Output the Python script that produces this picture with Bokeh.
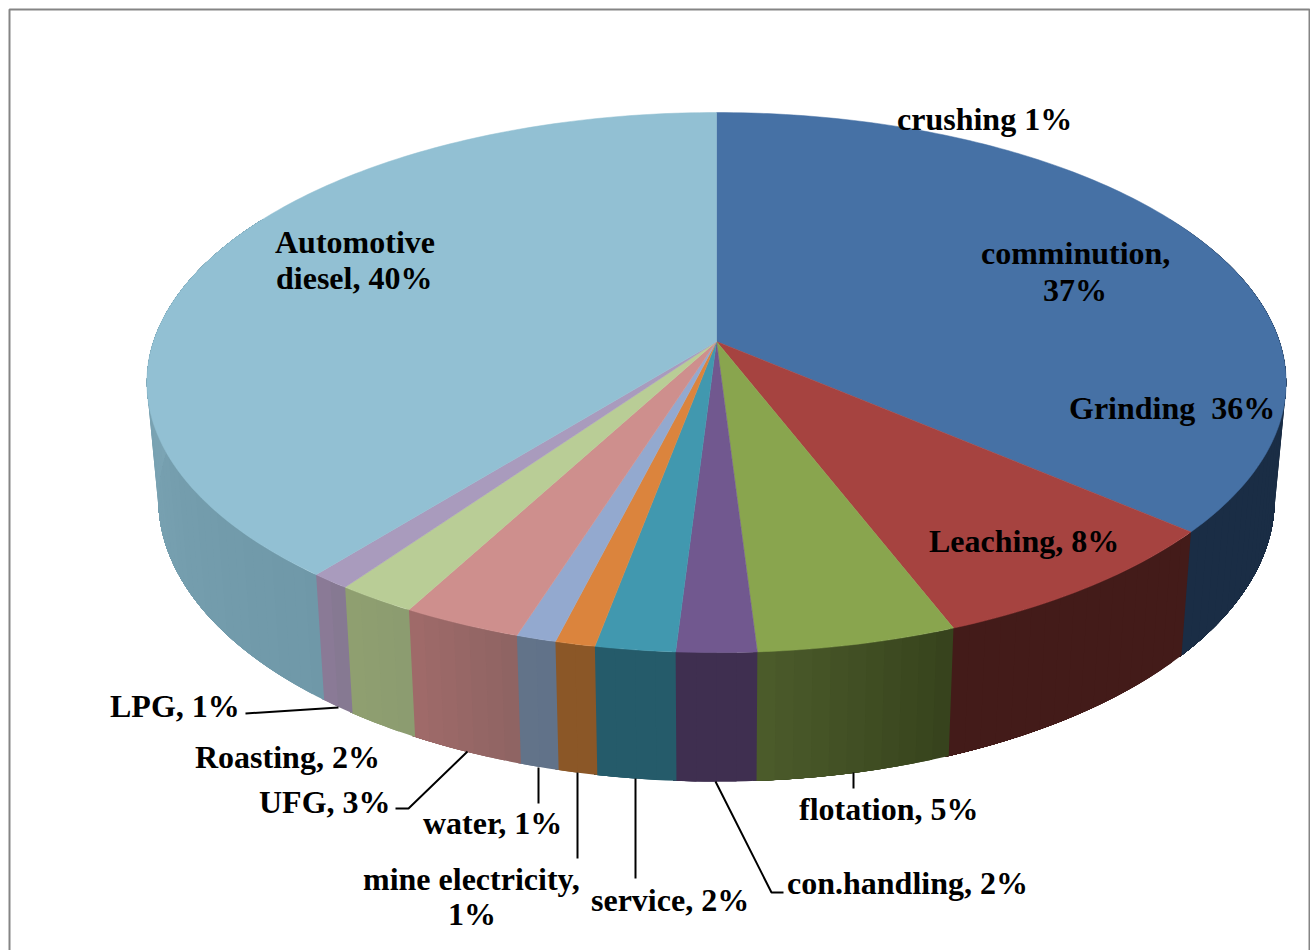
import numpy as np
from bokeh.core.properties import value
from bokeh.embed import file_html
from bokeh.models import ColumnDataSource, Range1d
from bokeh.plotting import figure
from bokeh.resources import INLINE

# Energy use shares, clockwise from twelve o'clock
categories = ["comminution", "Leaching", "flotation", "con.handling", "service",
              "mine electricity", "water", "UFG", "Roasting", "LPG", "Automotive diesel"]
shares = [37, 8, 5, 2, 2, 1, 1, 3, 2, 1, 40]
top_colors = ["#4671A5", "#A64340", "#89A54E", "#71588F", "#4198AF", "#DB843D",
              "#93A9CF", "#CE8F8D", "#B9CD96", "#A99BBD", "#92C0D3"]
wall_start = ["#1A2D45", "#431B19", "#36421C", "#3F2F50", "#255B6A", "#8B5727",
              "#617289", "#8E6362", "#8C9C70", "#85788F", "#6F98A8"]
wall_end = ["#1A2D45", "#431B19", "#4C5C2B", "#3F2F50", "#255B6A", "#8B5727",
            "#627389", "#A06B6A", "#8F9F70", "#8B7B99", "#82ABBB"]

# Perspective of the disc: hub position, radii and foreshortening
HUB_X, HUB_Y = 716.0, 341.0
RADIUS_X, RADIUS_Y, TILT = 563.0, 263.8, 0.152
# The lower rim of the disc relative to the upper rim
RIM_SCALE_X, RIM_SCALE_Y, RIM_DROP = 0.98, 1.046, 114.7


def top_rim(theta):
    u, v = np.sin(theta), -np.cos(theta)
    w = 1 - TILT * v
    return HUB_X + RADIUS_X * u / w, HUB_Y + RADIUS_Y * v / w


def bottom_rim(theta):
    x, y = top_rim(theta)
    return HUB_X + RIM_SCALE_X * (x - HUB_X), HUB_Y + RIM_DROP + RIM_SCALE_Y * (y - HUB_Y)


def mix(a, b, t):
    ca = [int(a[i:i + 2], 16) for i in (1, 3, 5)]
    cb = [int(b[i:i + 2], 16) for i in (1, 3, 5)]
    return "#%02x%02x%02x" % tuple(round(p + (q - p) * t) for p, q in zip(ca, cb))


edges = np.cumsum([0] + shares) / sum(shares) * 2 * np.pi

p = figure(width=1310, height=950, output_backend="svg", toolbar_location=None,
           x_range=Range1d(0, 1310), y_range=Range1d(950, 0),
           x_axis_type=None, y_axis_type=None, min_border=0,
           outline_line_color=None, background_fill_color="white")

# Frame round the chart area
p.line([9, 9, 1309, 1309], [950, 9, 9, 950], line_color="#858585", line_width=2)

# Outer wall: only the arc facing the viewer. Each strip runs on to the end of
# its slice and the next strip paints over it, so no gaps show between them and
# the sweep of strips gives the straight silhouette at the sides of the disc.
wall_xs, wall_ys, wall_cs = [], [], []
visible_from, visible_to = np.radians(60), np.radians(300)
overlap = np.radians(0.3)
for i in range(len(shares)):
    a0, a1 = max(edges[i], visible_from), min(edges[i + 1], visible_to)
    steps = max(2, int(np.degrees(a1 - a0) / 1.5))
    cuts = np.linspace(a0, a1, steps + 1)
    stop = a1 + overlap if i < len(shares) - 1 else a1
    for j in range(steps):
        seg = np.linspace(cuts[j], stop, max(3, int(np.degrees(stop - cuts[j])) + 2))
        tx, ty = top_rim(seg)
        bx, by = bottom_rim(seg)
        wall_xs.append(np.r_[tx, bx[::-1]])
        wall_ys.append(np.r_[ty, by[::-1]])
        wall_cs.append(mix(wall_start[i], wall_end[i], (j + 0.5) / steps))
walls = ColumnDataSource(dict(xs=wall_xs, ys=wall_ys, color=wall_cs))
p.patches("xs", "ys", source=walls, fill_color="color", line_color=None)

# Top face of each slice
face_xs, face_ys = [], []
for i in range(len(shares)):
    arc = np.linspace(edges[i], edges[i + 1], max(4, int(np.degrees(edges[i + 1] - edges[i]))))
    x, y = top_rim(arc)
    face_xs.append(np.r_[HUB_X, x])
    face_ys.append(np.r_[HUB_Y, y])
faces = ColumnDataSource(dict(xs=face_xs, ys=face_ys, color=top_colors, name=categories))
p.patches("xs", "ys", source=faces, fill_color="color", line_color="color", line_width=0.5)

# Leader lines from the outside labels to their slices
leaders = [
    ([245, 338], [713, 707]),
    ([395, 408, 467], [808, 808, 751]),
    ([538, 538], [767, 803]),
    ([577, 577], [772, 858]),
    ([635, 635], [778, 878]),
    ([715, 771, 783], [781, 892, 892]),
    ([853, 853], [772, 788]),
]
for lx, ly in leaders:
    p.line(lx, ly, line_color="black", line_width=2)

# Data labels
labels = [
    ("crushing 1%", 896.5, 118),
    ("comminution,", 980.5, 252),
    ("37%", 1042.5, 289),
    ("Grinding\u00a0\u00a036%", 1068.5, 407),
    ("Leaching, 8%", 928.5, 540),
    ("Automotive", 274.5, 241),
    ("diesel, 40%", 275.5, 277),
    ("LPG, 1%", 109.5, 705),
    ("Roasting, 2%", 194.5, 756),
    ("UFG, 3%", 258.5, 801),
    ("water, 1%", 422.5, 822),
    ("mine electricity,", 362.5, 878),
    ("1%", 447.5, 913),
    ("service, 2%", 590.5, 899),
    ("con.handling, 2%", 786.5, 882),
    ("flotation, 5%", 798.5, 808),
]
p.text([l[1] for l in labels], [l[2] for l in labels], text=[l[0] for l in labels],
       text_font=value("Liberation Serif"), text_font_style="bold", text_font_size="32px",
       text_color="black", text_align="left", text_baseline="alphabetic")

open("out.html", "w").write(file_html(p, INLINE))
